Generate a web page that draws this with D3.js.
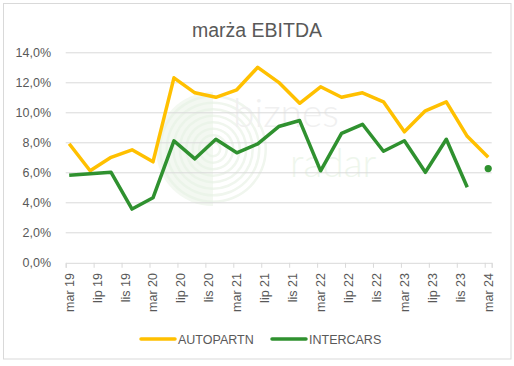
<!DOCTYPE html>
<html>
<head>
<meta charset="utf-8">
<script src="https://cdn.jsdelivr.net/npm/d3@7"></script>
<style>
  body { margin: 0; background: #fff; }
  text { font-family: "Liberation Sans", Arial, sans-serif; fill: #595959; }
</style>
</head>
<body>
<script>
// quarterly periods, mar 19 .. mar 24
var quarters = ["mar 19","cze 19","wrz 19","gru 19","mar 20","cze 20","wrz 20","gru 20",
                "mar 21","cze 21","wrz 21","gru 21","mar 22","cze 22","wrz 22","gru 22",
                "mar 23","cze 23","wrz 23","gru 23","mar 24"];
// EBITDA margin, %
var autopartn = [7.9, 6.1, 7.0, 7.5, 6.7, 12.3, 11.3, 11.0, 11.5, 13.0, 12.0, 10.6,
                 11.7, 11.0, 11.3, 10.7, 8.7, 10.1, 10.7, 8.4, 7.0];
var intercars = [5.8, 5.9, 6.0, 3.55, 4.3, 8.1, 6.9, 8.2, 7.3, 7.9, 9.05, 9.45,
                 6.1, 8.6, 9.2, 7.4, 8.1, 6.0, 8.2, 5.0, 6.25];
// axis labels every 4 months
var tickLabels = ["mar 19","lip 19","lis 19","mar 20","lip 20","lis 20","mar 21","lip 21",
                  "lis 21","mar 22","lip 22","lis 22","mar 23","lip 23","lis 23","mar 24"];
var yTicks = [0, 2, 4, 6, 8, 10, 12, 14];

var W = 514, H = 366;
var svg = d3.select("body").append("svg")
    .attr("width", W)
    .attr("height", H);

// chart border
svg.append("rect")
    .attr("x", 3.5).attr("y", 3.5)
    .attr("width", 507.5).attr("height", 355.5)
    .attr("fill", "#fff")
    .attr("stroke", "#d9d9d9");

// x is in months from mar 19, points sit in the middle of their month
var x = d3.scaleLinear().domain([0, 61]).range([65.7, 491.7]);
var y = d3.scaleLinear().domain([0, 14]).range([262.3, 52.3]);
var px = function(i) { return x(i * 3 + 0.5); };

// watermark
var wm = svg.append("g");
var cx = 213, cy = 149, R = 57;
wm.append("path")
    .attr("d", d3.arc()({innerRadius: 0, outerRadius: R, startAngle: Math.PI, endAngle: 2 * Math.PI}))
    .attr("transform", "translate(" + cx + "," + cy + ")")
    .attr("fill", "#f3f8f1");
d3.range(8).forEach(function(k) {
  var r = R - 3 - k * 6.5;
  wm.append("path")
    .attr("d", d3.arc()({innerRadius: r - 2.5, outerRadius: r, startAngle: 0, endAngle: Math.PI}))
    .attr("transform", "translate(" + cx + "," + cy + ")")
    .attr("fill", "#f0f6ee");
  wm.append("path")
    .attr("d", d3.arc()({innerRadius: r - 2.5, outerRadius: r, startAngle: Math.PI, endAngle: 2 * Math.PI}))
    .attr("transform", "translate(" + cx + "," + cy + ")")
    .attr("fill", "#ebf4e9");
});
wm.append("text").attr("x", 233).attr("y", 127)
    .style("font-size", "39px").style("font-weight", 300)
    .style("font-family", "Lato, sans-serif")
    .style("fill", "#f0f0f0").text("biznes");
wm.append("text").attr("x", 290).attr("y", 177)
    .style("font-size", "39px").style("font-weight", 300)
    .style("font-family", "Lato, sans-serif")
    .style("fill", "#eef6ec").text("radar");

// gridlines
svg.append("g").selectAll("line")
  .data(yTicks.slice(1))
  .enter().append("line")
    .attr("x1", x(0)).attr("x2", x(61))
    .attr("y1", function(d) { return y(d) + 0.5; })
    .attr("y2", function(d) { return y(d) + 0.5; })
    .attr("stroke", "#d9d9d9");

// y labels
svg.append("g").selectAll("text")
  .data(yTicks)
  .enter().append("text")
    .attr("x", 51)
    .attr("y", function(d) { return y(d) + 4.5; })
    .attr("text-anchor", "end")
    .style("font-size", "12.5px")
    .text(function(d) { return d3.format(".1f")(d).replace(".", ",") + "%"; });

// x axis
var xAxis = d3.axisBottom(x)
    .tickValues(d3.range(0, 61, 4).concat([61]))
    .tickSize(5)
    .tickFormat("");
var gx = svg.append("g")
    .attr("transform", "translate(0," + (y(0) + 0.5) + ")")
    .call(xAxis);
gx.select(".domain").attr("stroke", "#d9d9d9");
gx.selectAll(".tick line").attr("stroke", "#d9d9d9");

svg.append("g").selectAll("text")
  .data(tickLabels)
  .enter().append("text")
    .attr("transform", function(d, i) {
      return "translate(" + (x(i * 4 + 0.5) + 4.5) + ",273) rotate(-90)";
    })
    .attr("text-anchor", "end")
    .style("font-size", "12.5px")
    .text(function(d) { return d; });

// lines
var line = d3.line()
    .x(function(d, i) { return px(i); })
    .y(function(d) { return y(d); });

svg.append("path")
    .datum(autopartn)
    .attr("d", line)
    .attr("fill", "none")
    .attr("stroke", "#FFC000")
    .attr("stroke-width", 3.5)
    .attr("stroke-linejoin", "round");

svg.append("path")
    .datum(intercars.slice(0, intercars.length - 1))
    .attr("d", line)
    .attr("fill", "none")
    .attr("stroke", "#2F912F")
    .attr("stroke-width", 3.5)
    .attr("stroke-linejoin", "round");

// last intercars quarter shown as a lone point
svg.append("circle")
    .attr("cx", px(intercars.length - 1))
    .attr("cy", y(intercars[intercars.length - 1]))
    .attr("r", 3.6)
    .attr("fill", "#2F912F");

// title
svg.append("text")
    .attr("x", 257).attr("y", 37)
    .attr("text-anchor", "middle")
    .style("font-size", "19.5px")
    .text("marża EBITDA");

// legend
var legend = [{name: "AUTOPARTN", color: "#FFC000", x: 141},
              {name: "INTERCARS", color: "#2F912F", x: 272}];
var lg = svg.append("g").selectAll("g")
  .data(legend)
  .enter().append("g")
    .attr("transform", function(d) { return "translate(" + d.x + ",339)"; });
lg.append("line")
    .attr("x1", 0).attr("x2", 34)
    .attr("stroke", function(d) { return d.color; })
    .attr("stroke-width", 3.5)
    .attr("stroke-linecap", "round");
lg.append("text")
    .attr("x", 37).attr("y", 4.5)
    .style("font-size", "12.5px")
    .text(function(d) { return d.name; });
</script>
</body>
</html>
